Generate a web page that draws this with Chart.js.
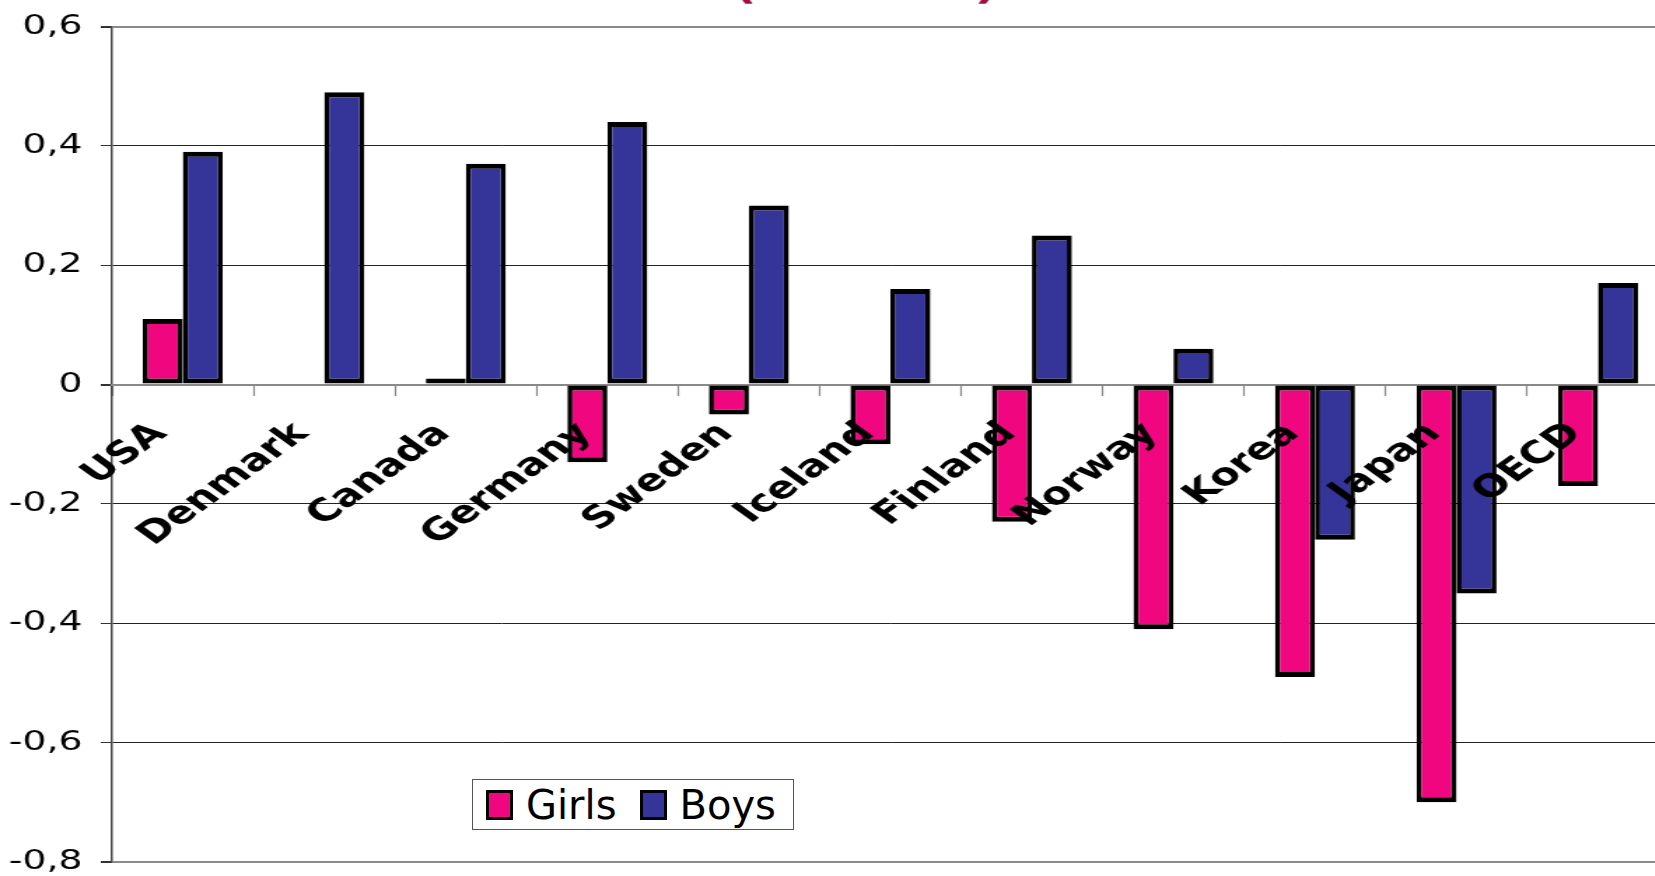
<!DOCTYPE html>
<html>
<head>
<meta charset="utf-8">
<script src="https://cdn.jsdelivr.net/npm/chart.js@4.4.1/dist/chart.umd.min.js"></script>
<style>
  html, body { margin: 0; padding: 0; background: #fff; overflow: hidden; width: 1655px; height: 876px; }
  #wrap { position: absolute; left: 0; top: 0; width: 1195px; height: 876px; transform: scaleX(1.4); transform-origin: 0 0; }
  #legend {
    position: absolute; left: 472px; top: 779px; width: 320px; height: 49px;
    border: 1px solid #555; background: #fff;
    display: flex; align-items: center;
    font-family: "DejaVu Sans", sans-serif; font-size: 40px; color: #000;
  }
  #legend .item { display: flex; align-items: center; }
  #legend .sw { width: 21px; height: 24px; border: 3px solid #000; margin: 0 13px 0 13px; }
  #legend .item + .item .sw { margin-left: 23px; }
</style>
</head>
<body>
<div id="wrap"><canvas id="chart" width="1195" height="876"></canvas></div>
<div id="legend"></div>
<script>
// values
const categories = ['USA', 'Denmark', 'Canada', 'Germany', 'Sweden', 'Iceland', 'Finland', 'Norway', 'Korea', 'Japan', 'OECD'];
const girls = [0.11, null, 0.01, -0.13, -0.05, -0.10, -0.23, -0.41, -0.49, -0.70, -0.17];
const boys = [0.39, 0.49, 0.37, 0.44, 0.30, 0.16, 0.25, 0.06, -0.26, -0.35, 0.17];
const yTicks = [-0.8, -0.6, -0.4, -0.2, 0, 0.2, 0.4, 0.6];

const pink = '#F0077F';
const navy = '#343499';

const heavyLine = v => Math.abs(v) < 1e-9 || v === yTicks[0] || v === yTicks[yTicks.length - 1];

// only the bottom of the title's brackets shows above the plot
const titleStub = {
  id: 'titleStub',
  afterDraw(chart) {
    const ctx = chart.ctx;
    ctx.save();
    ctx.fillStyle = '#A0103C';
    ctx.font = 'bold 36px "DejaVu Sans"';
    ctx.textBaseline = 'alphabetic';
    ctx.fillText('(', 524, -1);
    ctx.fillText(')', 696, -1);
    ctx.restore();
  }
};

const barStyle = {
  borderColor: '#000',
  borderWidth: { top: 5, bottom: 5, left: 3.6, right: 3.6 },
  borderSkipped: false,
  barPercentage: 1.0,
  categoryPercentage: 0.565
};

const chart = new Chart(document.getElementById('chart'), {
  type: 'bar',
  data: {
    labels: categories,
    datasets: [
      { label: 'Girls', data: girls, backgroundColor: pink, ...barStyle },
      { label: 'Boys', data: boys, backgroundColor: navy, ...barStyle }
    ]
  },
  options: {
    responsive: false,
    devicePixelRatio: 1,
    animation: false,
    layout: { padding: { top: 26.5, bottom: 14, left: 0, right: 3 } },
    plugins: {
      legend: { display: false },
      tooltip: { enabled: false }
    },
    scales: {
      y: {
        min: -0.8,
        max: 0.6,
        afterBuildTicks: scale => { scale.ticks = yTicks.map(v => ({ value: v })); },
        afterFit: scale => {
          scale.width = 80;
          scale.paddingTop = 0;
          scale.paddingBottom = 0;
        },
        ticks: {
          padding: 13,
          color: '#000',
          font: { family: 'DejaVu Sans', size: 27 },
          callback: v => {
            const r = Math.round(v * 10) / 10;
            return r === 0 ? '0' : r.toFixed(1).replace('.', ',');
          }
        },
        grid: {
          color: c => heavyLine(c.tick.value) ? '#8a8a8a' : '#222',
          lineWidth: c => heavyLine(c.tick.value) ? 2 : 1,
          tickColor: '#333',
          tickLength: 8
        },
        border: { color: '#444', width: 1.5 }
      },
      x: {
        position: { y: 0 },
        offset: true,
        afterFit: scale => {
          scale.paddingLeft = 0;
          scale.paddingRight = 0;
          scale.paddingTop = 0;
          scale.paddingBottom = 0;
        },
        ticks: {
          z: 1,
          autoSkip: false,
          maxRotation: 45,
          minRotation: 45,
          padding: 21,
          labelOffset: -16,
          color: '#000',
          font: { family: 'DejaVu Sans', size: 31, weight: 'bold' }
        },
        grid: {
          display: true,
          offset: true,
          drawOnChartArea: false,
          drawTicks: true,
          tickLength: 10,
          tickColor: '#888',
          tickWidth: 1.2
        },
        border: { color: '#8a8a8a', width: 2 }
      }
    }
  },
  plugins: [titleStub]
});

// legend box drawn over the plot, built from the datasets
const legend = document.getElementById('legend');
chart.data.datasets.forEach(ds => {
  const item = document.createElement('div');
  item.className = 'item';
  const sw = document.createElement('div');
  sw.className = 'sw';
  sw.style.background = ds.backgroundColor;
  const txt = document.createElement('span');
  txt.textContent = ds.label;
  item.appendChild(sw);
  item.appendChild(txt);
  legend.appendChild(item);
});
</script>
</body>
</html>
